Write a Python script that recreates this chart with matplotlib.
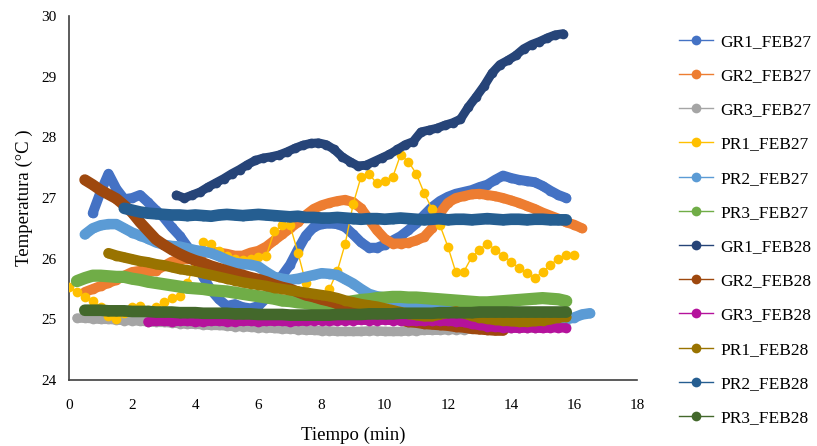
import numpy as np
import matplotlib.pyplot as plt

# ---------------------- Data ---------------------- #
# each series: start time (min), sampling step (min), temperatures (°C)
STEP = 0.25

gr1_feb27_t0 = 0.75
gr1_feb27 = [26.75, 27.1, 27.4, 27.15, 26.98, 27.0, 27.05, 26.93, 26.8, 26.68, 26.52, 26.38,
             26.2, 25.95, 25.7, 25.48, 25.33, 25.22, 25.25, 25.2, 25.18, 25.22, 25.35, 25.5,
             25.72, 25.9, 26.15, 26.38, 26.52, 26.57, 26.58, 26.57, 26.52, 26.4, 26.27, 26.18,
             26.18, 26.23, 26.3, 26.37, 26.47, 26.58, 26.72, 26.85, 26.95, 27.02, 27.07, 27.1,
             27.13, 27.18, 27.22, 27.3, 27.37, 27.33, 27.3, 27.28, 27.26, 27.2, 27.12, 27.05, 27.0]

gr2_feb27_t0 = 0.5
gr2_feb27 = [25.45, 25.5, 25.55, 25.6, 25.65, 25.72, 25.78, 25.8, 25.78, 25.8, 25.88, 25.95,
             25.98, 26.0, 26.05, 26.1, 26.12, 26.1, 26.08, 26.05, 26.05, 26.1, 26.13, 26.2,
             26.3, 26.4, 26.5, 26.6, 26.72, 26.82, 26.88, 26.92, 26.95, 26.97, 26.93, 26.83,
             26.65, 26.47, 26.33, 26.25, 26.25, 26.26, 26.3, 26.36, 26.5, 26.75, 26.92, 27.0,
             27.03, 27.06, 27.07, 27.05, 27.03, 27.0, 26.96, 26.92, 26.87, 26.82, 26.76, 26.71,
             26.66, 26.6, 26.56, 26.5]

gr3_feb27_t0 = 0.25
gr3_feb27 = [25.02, 25.02, 25.01, 25.0, 25.0, 24.99, 24.98, 24.98, 24.97, 24.96, 24.95, 24.95,
             24.94, 24.93, 24.92, 24.92, 24.91, 24.9, 24.9, 24.89, 24.88, 24.88, 24.87, 24.86,
             24.86, 24.85, 24.84, 24.84, 24.83, 24.82, 24.82, 24.81, 24.81, 24.8, 24.8, 24.8,
             24.8, 24.81, 24.81, 24.8, 24.8, 24.8, 24.81, 24.81, 24.82, 24.82, 24.82, 24.83,
             24.83, 24.83, 24.84, 24.84, 24.84, 24.85, 24.85, 24.85, 24.86, 24.86, 24.86, 24.87,
             24.87, 24.87, 24.88]

pr1_feb27_t0 = 0.0
pr1_feb27 = [25.54, 25.45, 25.36, 25.3, 25.2, 25.06, 25.0, 25.1, 25.2, 25.22, 25.15, 25.2,
             25.28, 25.35, 25.38, 25.6, 25.95, 26.28, 26.25, 26.12, 26.05, 26.0, 25.98, 26.0,
             26.02, 26.05, 26.45, 26.55, 26.55, 26.1, 25.6, 25.22, 25.3, 25.5, 25.8, 26.25,
             26.9, 27.35, 27.4, 27.24, 27.28, 27.34, 27.71, 27.6, 27.4, 27.08, 26.82, 26.55,
             26.2, 25.78, 25.78, 26.02, 26.15, 26.25, 26.15, 26.05, 25.95, 25.85, 25.76, 25.68,
             25.78, 25.9, 26.0, 26.06, 26.06]

pr2_feb27_t0 = 0.5
pr2_feb27 = [26.4, 26.5, 26.55, 26.57, 26.57, 26.5, 26.43, 26.38, 26.33, 26.27, 26.23, 26.21,
             26.2, 26.17, 26.14, 26.12, 26.09, 26.04, 25.98, 25.93, 25.91, 25.9, 25.87, 25.78,
             25.7, 25.67, 25.65, 25.67, 25.7, 25.73, 25.76, 25.75, 25.73, 25.66, 25.59, 25.5,
             25.42, 25.38, 25.36, 25.32, 25.29, 25.27, 25.25, 25.22, 25.2, 25.18, 25.15, 25.13,
             25.12, 25.1, 25.08, 25.06, 25.05, 25.04, 25.03, 25.02, 25.01, 25.0, 25.0, 25.0,
             25.0, 25.0, 25.03, 25.08, 25.1]

pr3_feb27_t0 = 0.25
pr3_feb27 = [25.63, 25.68, 25.72, 25.72, 25.71, 25.7, 25.7, 25.67, 25.65, 25.62, 25.6, 25.58,
             25.56, 25.54, 25.52, 25.51, 25.5, 25.48, 25.47, 25.46, 25.44, 25.42, 25.4, 25.38,
             25.36, 25.34, 25.31, 25.3, 25.28, 25.27, 25.25, 25.24, 25.24, 25.26, 25.28, 25.3,
             25.32, 25.33, 25.35, 25.36, 25.37, 25.37, 25.36, 25.36, 25.35, 25.34, 25.33, 25.32,
             25.31, 25.3, 25.29, 25.28, 25.28, 25.29, 25.3, 25.31, 25.32, 25.33, 25.34, 25.35,
             25.34, 25.33, 25.3]

gr1_feb28_t0 = 3.4
gr1_feb28 = [27.05, 27.0, 27.05, 27.1, 27.18, 27.25, 27.32, 27.4, 27.47, 27.55, 27.62, 27.66,
             27.68, 27.71, 27.76, 27.82, 27.87, 27.9, 27.91, 27.88, 27.8, 27.68, 27.6, 27.53,
             27.54, 27.6, 27.66, 27.72, 27.8, 27.88, 27.93, 28.09, 28.12, 28.15, 28.2, 28.24,
             28.3, 28.5, 28.67, 28.85, 29.06, 29.2, 29.27, 29.35, 29.46, 29.53, 29.58, 29.64,
             29.69, 29.71]

gr2_feb28_t0 = 0.5
gr2_feb28 = [27.3, 27.22, 27.13, 27.06, 26.99, 26.88, 26.76, 26.6, 26.46, 26.32, 26.23, 26.15,
             26.08, 26.02, 25.97, 25.93, 25.88, 25.84, 25.8, 25.76, 25.73, 25.69, 25.66, 25.62,
             25.57, 25.53, 25.5, 25.45, 25.4, 25.37, 25.33, 25.3, 25.26, 25.22, 25.18, 25.15,
             25.12, 25.08, 25.05, 25.02, 24.99, 24.96, 24.95, 24.93, 24.92, 24.91, 24.9, 24.88,
             24.87, 24.85, 24.84, 24.83, 24.82, 24.82]

gr3_feb28_t0 = 2.5
gr3_feb28 = [24.96, 24.97, 24.97, 24.96, 24.97, 24.97, 24.96, 24.96, 24.97, 24.97, 24.96, 24.96,
             24.97, 24.97, 24.96, 24.97, 24.97, 24.97, 24.96, 24.97, 24.97, 24.98, 24.98, 24.97,
             24.98, 24.98, 24.98, 24.99, 24.98, 24.98, 24.99, 24.98, 24.98, 24.97, 24.97, 24.97,
             24.98, 24.97, 24.97, 24.96, 24.95, 24.92, 24.9, 24.88, 24.87, 24.86, 24.86, 24.85,
             24.86, 24.86, 24.85, 24.86, 24.86, 24.86]

pr1_feb28_t0 = 1.25
pr1_feb28 = [26.09, 26.05, 26.02, 25.99, 25.96, 25.94, 25.91, 25.89, 25.86, 25.83, 25.81, 25.79,
             25.76, 25.73, 25.7, 25.67, 25.64, 25.61, 25.59, 25.57, 25.55, 25.52, 25.5, 25.48,
             25.46, 25.44, 25.42, 25.4, 25.38, 25.35, 25.31, 25.28, 25.25, 25.23, 25.21, 25.18,
             25.15, 25.12, 25.09, 25.07, 25.05, 25.05, 25.08, 25.11, 25.13, 25.1, 25.06, 25.03,
             25.01, 24.99, 24.98, 24.97, 24.96, 24.96, 24.97, 24.98, 25.0, 25.03, 25.04]

pr2_feb28_t0 = 1.75
pr2_feb28 = [26.83, 26.8, 26.77, 26.75, 26.74, 26.73, 26.72, 26.72, 26.71, 26.72, 26.71, 26.7,
             26.72, 26.73, 26.72, 26.71, 26.72, 26.73, 26.72, 26.71, 26.7, 26.69, 26.7, 26.68,
             26.68, 26.67, 26.67, 26.68, 26.67, 26.66, 26.65, 26.66, 26.66, 26.65, 26.66, 26.67,
             26.66, 26.65, 26.64, 26.65, 26.66, 26.64, 26.65, 26.65, 26.64, 26.65, 26.66, 26.65,
             26.64, 26.65, 26.65, 26.64, 26.65, 26.65, 26.64, 26.64, 26.64]

pr3_feb28_t0 = 0.5
pr3_feb28 = [25.15, 25.15, 25.15, 25.14, 25.14, 25.14, 25.13, 25.13, 25.13, 25.12, 25.12, 25.12,
             25.11, 25.11, 25.11, 25.1, 25.1, 25.1, 25.1, 25.09, 25.09, 25.09, 25.08, 25.08,
             25.08, 25.08, 25.07, 25.07, 25.07, 25.07, 25.07, 25.07, 25.08, 25.08, 25.08, 25.08,
             25.09, 25.09, 25.09, 25.09, 25.1, 25.1, 25.1, 25.1, 25.1, 25.11, 25.11, 25.11,
             25.11, 25.11, 25.12, 25.12, 25.12, 25.12, 25.12, 25.12, 25.12, 25.12, 25.12, 25.12,
             25.12, 25.12]

labels = ['GR1_FEB27', 'GR2_FEB27', 'GR3_FEB27', 'PR1_FEB27', 'PR2_FEB27', 'PR3_FEB27',
          'GR1_FEB28', 'GR2_FEB28', 'GR3_FEB28', 'PR1_FEB28', 'PR2_FEB28', 'PR3_FEB28']
starts = [gr1_feb27_t0, gr2_feb27_t0, gr3_feb27_t0, pr1_feb27_t0, pr2_feb27_t0, pr3_feb27_t0,
          gr1_feb28_t0, gr2_feb28_t0, gr3_feb28_t0, pr1_feb28_t0, pr2_feb28_t0, pr3_feb28_t0]
series = [gr1_feb27, gr2_feb27, gr3_feb27, pr1_feb27, pr2_feb27, pr3_feb27,
          gr1_feb28, gr2_feb28, gr3_feb28, pr1_feb28, pr2_feb28, pr3_feb28]

# ---------------------- Style ---------------------- #
colors = ['#4472C4', '#ED7D31', '#A5A5A5', '#FFC000', '#5B9BD5', '#70AD47',
          '#264478', '#9E480E', '#B5129C', '#997300', '#255E91', '#43682B']
msizes = [9, 9, 8.5, 7, 9.5, 11, 8, 10, 8.5, 9.5, 10.5, 10.5]
# dense logging in the original makes the markers merge into a band;
# the yellow series jumps a lot so it keeps separate dots
band = [True] * 12
band[3] = False

plt.rcParams['font.family'] = ['Liberation Serif', 'DejaVu Serif']

fig = plt.figure(figsize=(8.17, 4.46), dpi=100)
ax = fig.add_axes([0.0845, 0.148, 0.6955, 0.816])

for i, (lab, t0, vals) in enumerate(zip(labels, starts, series)):
    t = t0 + STEP * np.arange(len(vals))
    if band[i]:
        ax.plot(t, vals, color=colors[i], lw=msizes[i] * 0.8,
                solid_capstyle='round', solid_joinstyle='round', zorder=2 + i)
    ax.plot(t, vals, color=colors[i], lw=1, marker='o', ms=msizes[i],
            markeredgewidth=0, label=lab, zorder=2 + i)

ax.set_xlim(0, 18)
ax.set_ylim(24, 30)
ax.set_xticks(np.arange(0, 19, 2))
ax.set_yticks(np.arange(24, 31, 1))
ax.tick_params(length=0, labelsize=11)
ax.tick_params(axis='x', pad=14)
ax.tick_params(axis='y', pad=9)
for s in ['top', 'right']:
    ax.spines[s].set_visible(False)
for s in ['left', 'bottom']:
    ax.spines[s].set_color('#404040')
    ax.spines[s].set_linewidth(1.2)

ax.set_xlabel('Tiempo (min)', fontsize=13.5, labelpad=10)
ax.set_ylabel('Temperatura (°C )', fontsize=13.5, labelpad=6)

handles, labs = ax.get_legend_handles_labels()
for h in handles:
    h.set_markersize(7)
fig.legend(handles, labs, loc='upper left', bbox_to_anchor=(0.822, 0.94),
           frameon=False, fontsize=12.5, labelspacing=1.04, handlelength=2.0,
           handletextpad=0.4, borderaxespad=0)

fig.savefig('out.png', dpi=100)
